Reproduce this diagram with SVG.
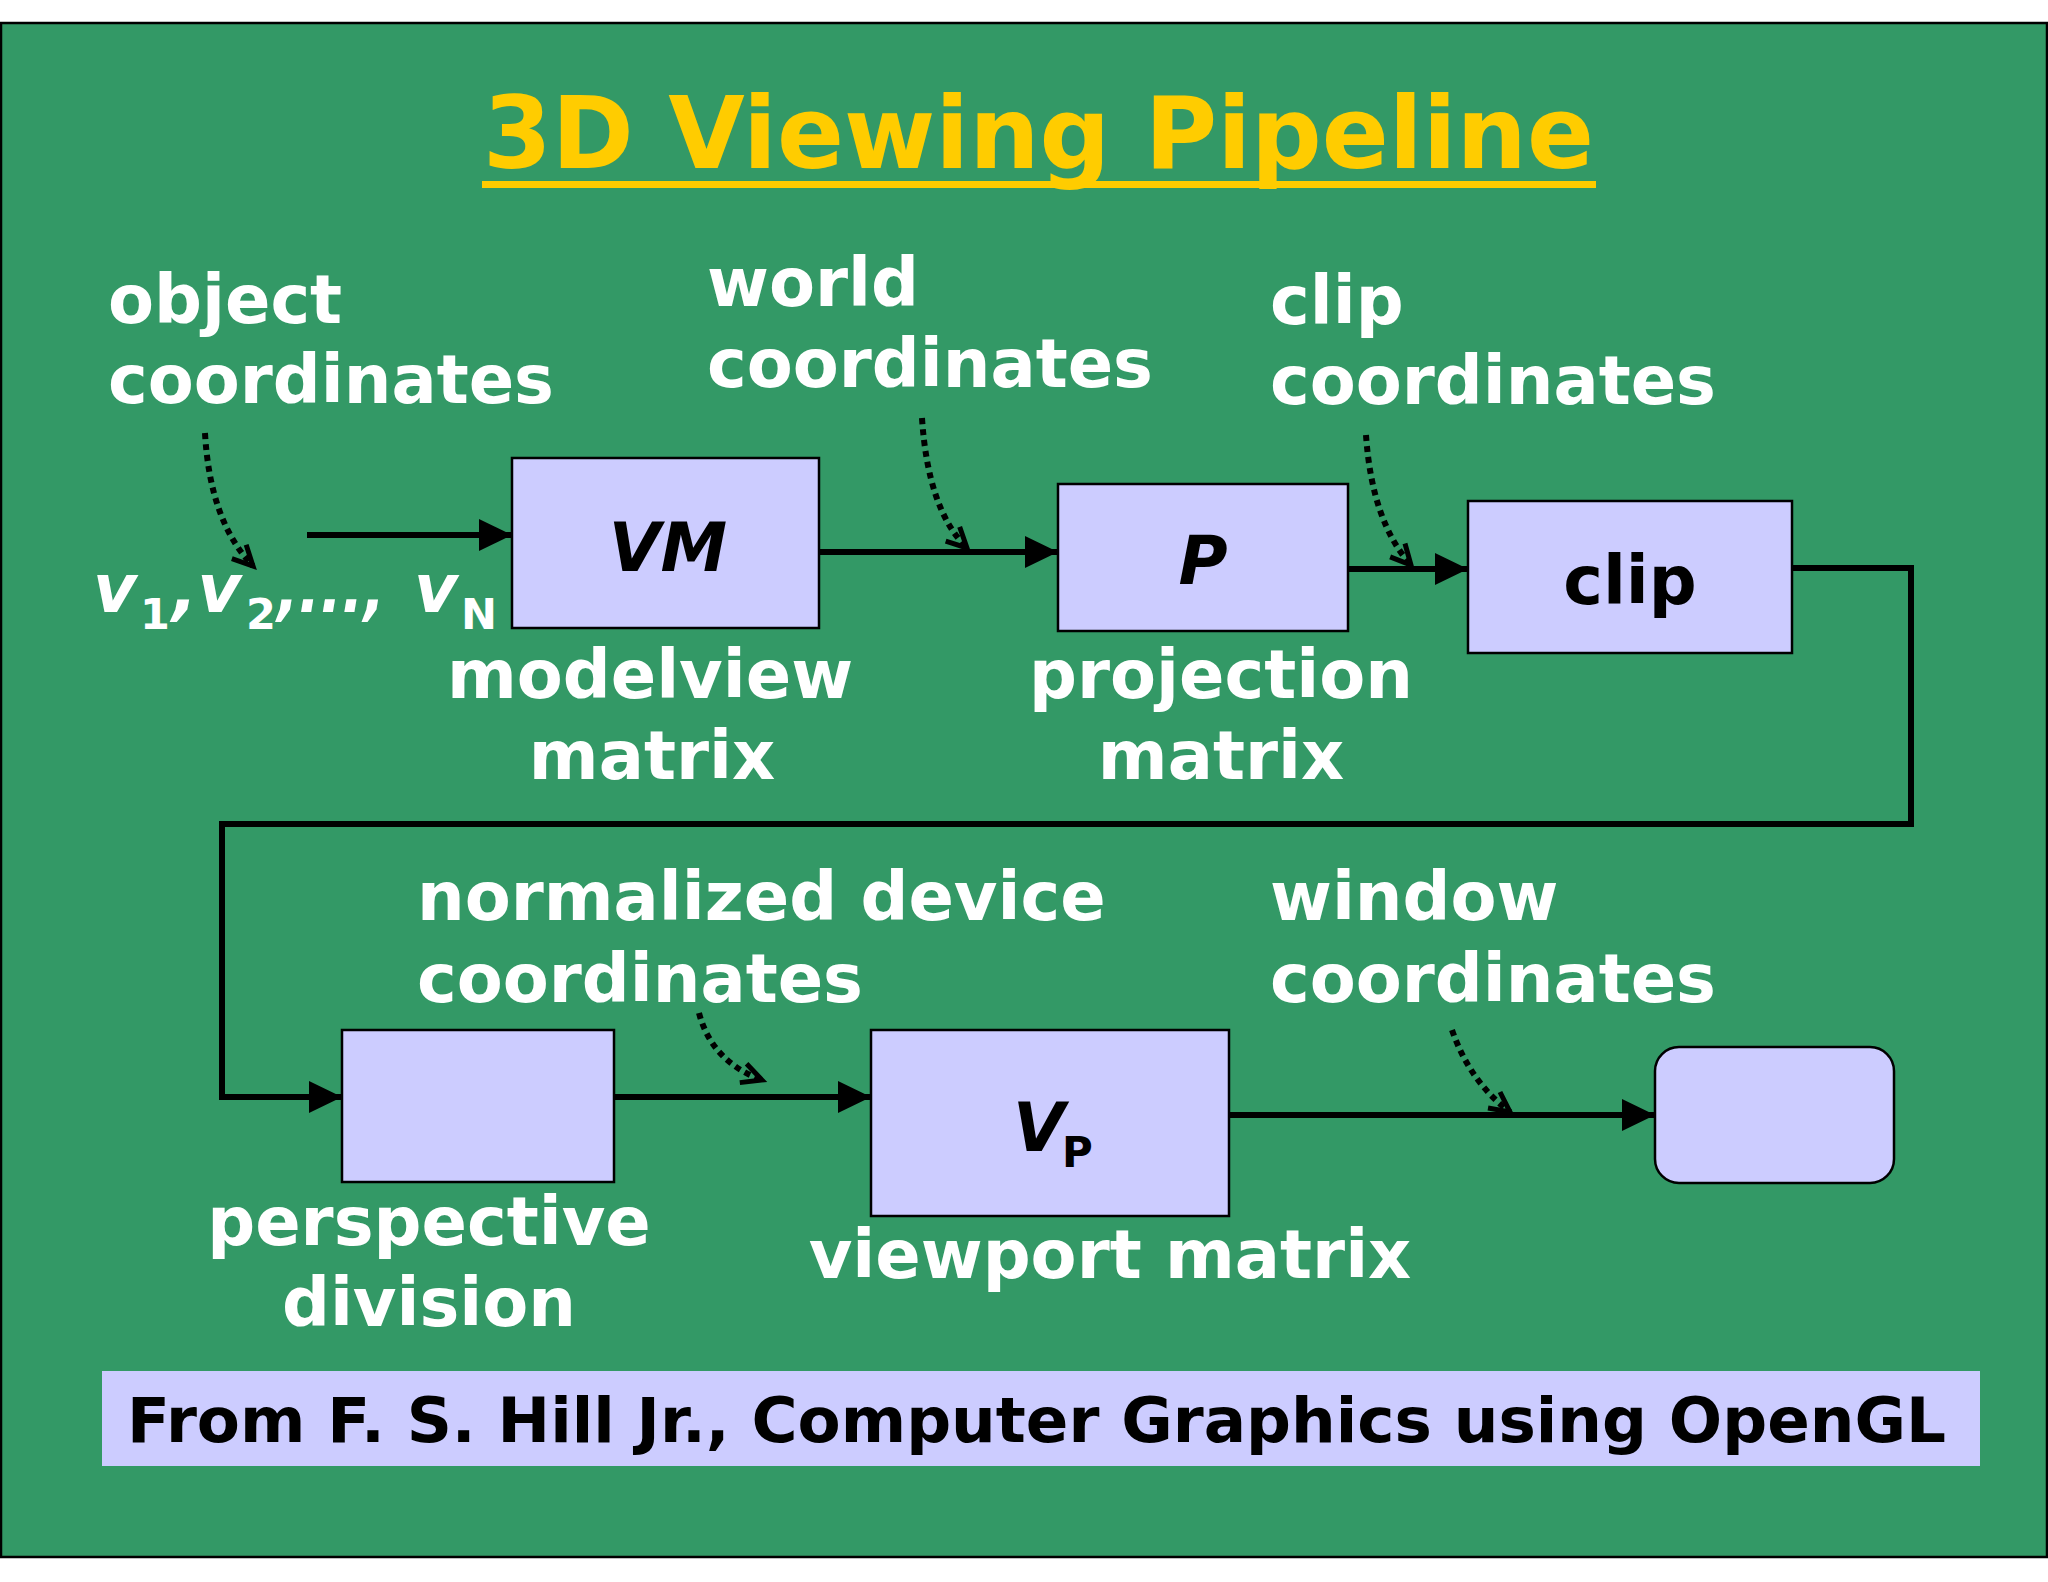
<svg xmlns="http://www.w3.org/2000/svg" width="2048" height="1582" viewBox="0 0 2048 1582">
<style>
.lbl{font-family:"DejaVu Sans","Verdana",sans-serif;font-weight:bold;font-size:67px;fill:#ffffff}
.box{fill:#ccccff;stroke:#000000;stroke-width:2.5}
.btxt{font-family:"DejaVu Sans","Verdana",sans-serif;font-weight:bold;font-size:67px;fill:#000000}
.conn{fill:none;stroke:#000000;stroke-width:6}
.dot{fill:none;stroke:#000000;stroke-width:6;stroke-dasharray:6 5}
.sub{font-size:43px;font-style:normal}
</style>
<defs>
<marker id="ah" markerUnits="userSpaceOnUse" markerWidth="34" markerHeight="32" refX="33" refY="16" orient="auto">
<path d="M0,0 L33,16 L0,32 Z" fill="#000000"/>
</marker>
<marker id="oh" markerUnits="userSpaceOnUse" markerWidth="30" markerHeight="30" refX="22" refY="12" orient="auto" overflow="visible">
<path d="M2,2 L22,12 L2,22" fill="none" stroke="#000000" stroke-width="5" stroke-dasharray="none"/>
</marker>
</defs>
<rect x="1" y="23" width="2046" height="1534" fill="#339966" stroke="#000000" stroke-width="2.5"/>
<g id="title">
<text x="483" y="168" font-family="DejaVu Sans, Verdana, sans-serif" font-weight="bold" font-size="100" fill="#ffcc00" textLength="1111" lengthAdjust="spacingAndGlyphs">3D Viewing Pipeline</text>
<rect x="482" y="181" width="1114" height="7" fill="#ffcc00"/>
</g>
<g id="labels">
<text class="lbl" x="108" y="323">object</text>
<text class="lbl" x="108" y="403">coordinates</text>
<text class="lbl" x="707" y="306">world</text>
<text class="lbl" x="707" y="387">coordinates</text>
<text class="lbl" x="1270" y="324">clip</text>
<text class="lbl" x="1270" y="404">coordinates</text>
<text class="lbl" x="650" y="698" text-anchor="middle">modelview</text>
<text class="lbl" x="652" y="779" text-anchor="middle">matrix</text>
<text class="lbl" x="1221" y="698" text-anchor="middle">projection</text>
<text class="lbl" x="1221" y="779" text-anchor="middle">matrix</text>
<text class="lbl" x="417" y="920">normalized device</text>
<text class="lbl" x="417" y="1002">coordinates</text>
<text class="lbl" x="1270" y="920">window</text>
<text class="lbl" x="1270" y="1002">coordinates</text>
<text class="lbl" x="429" y="1245" text-anchor="middle">perspective</text>
<text class="lbl" x="429" y="1326" text-anchor="middle">division</text>
<text class="lbl" x="1110" y="1278" text-anchor="middle">viewport matrix</text>
</g>
<g id="vertices">
<text class="lbl" font-style="italic"><tspan x="93" y="612">v</tspan><tspan class="sub" x="140" y="629">1</tspan><tspan x="172" y="612">,v</tspan><tspan class="sub" x="246" y="629">2</tspan><tspan x="277" y="612" textLength="108" lengthAdjust="spacingAndGlyphs">,...,</tspan><tspan x="414" y="612">v</tspan><tspan class="sub" x="461" y="629">N</tspan></text>
</g>
<g id="node-vm">
<rect class="box" x="512" y="458" width="307" height="170"/>
<text class="btxt" x="668" y="571" text-anchor="middle" font-style="italic">VM</text>
</g>
<g id="node-p">
<rect class="box" x="1058" y="484" width="290" height="147"/>
<text class="btxt" x="1203" y="584" text-anchor="middle" font-style="italic">P</text>
</g>
<g id="node-clip">
<rect class="box" x="1468" y="501" width="324" height="152"/>
<text class="btxt" x="1630" y="604" text-anchor="middle">clip</text>
</g>
<g id="node-persp">
<rect class="box" x="342" y="1030" width="272" height="152"/>
</g>
<g id="node-vp">
<rect class="box" x="871" y="1030" width="358" height="186"/>
<text class="btxt" x="1013" y="1151" font-style="italic">V</text>
<text class="btxt" x="1062" y="1167" style="font-size:42px">P</text>
</g>
<g id="node-window">
<rect class="box" x="1655" y="1047" width="239" height="136" rx="24" ry="24"/>
</g>
<g id="connectors">
<line class="conn" x1="307" y1="535" x2="512" y2="535" marker-end="url(#ah)"/>
<line class="conn" x1="819" y1="552" x2="1058" y2="552" marker-end="url(#ah)"/>
<line class="conn" x1="1348" y1="569" x2="1468" y2="569" marker-end="url(#ah)"/>
<polyline class="conn" points="1792,568 1911,568 1911,824 222,824 222,1097 342,1097" marker-end="url(#ah)"/>
<line class="conn" x1="614" y1="1097" x2="871" y2="1097" marker-end="url(#ah)"/>
<line class="conn" x1="1229" y1="1115" x2="1655" y2="1115" marker-end="url(#ah)"/>
<path class="dot" d="M205,433 Q210,522 253,566" marker-end="url(#oh)"/>
<path class="dot" d="M922,418 Q928,510 967,548" marker-end="url(#oh)"/>
<path class="dot" d="M1366,435 Q1372,522 1411,565" marker-end="url(#oh)"/>
<path class="dot" d="M699,1013 Q712,1062 762,1080" marker-end="url(#oh)"/>
<path class="dot" d="M1452,1030 Q1470,1082 1510,1112" marker-end="url(#oh)"/>
</g>
<g id="caption">
<rect x="102" y="1371" width="1878" height="95" fill="#ccccff"/>
<text x="127" y="1442" font-family="DejaVu Sans, Verdana, sans-serif" font-weight="bold" font-size="62" fill="#000000" textLength="1819" lengthAdjust="spacingAndGlyphs">From F. S. Hill Jr., Computer Graphics using OpenGL</text>
</g>
</svg>
